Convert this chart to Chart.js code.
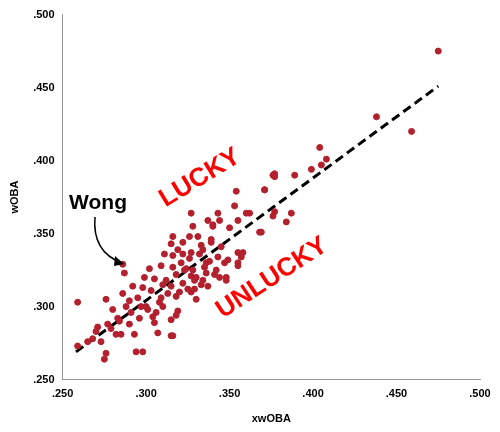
<!DOCTYPE html>
<html>
<head>
<script src="https://cdn.jsdelivr.net/npm/chart.js"></script>
<style>body{margin:0;background:#fff}#wrap{width:500px;height:432px}</style>
</head>
<body>
<div id="wrap"><canvas id="chart1"></canvas></div>
<script>
const xwoba = [.259,.259,.265,.273,.276,.275,.271,.277,.280,.276,.282,.285,.286,.288,.286,.287,.292,.290,.293,.294,
  .298,.295,.298,.299,.302,.301,.304,.305,.307,.309,.310,.310,.309,.315,.315,.316,.315,.316,.316,.315,
  .316,.319,.318,.319,.322,.323,.322,.326,.327,.327,.328,.331,.328,.327,.330,.333,.334,.336,.337,.337,
  .339,.340,.343,.343,.344,.342,.345,.348,.349,.350,.355,.355,.355,.353,.354,.358,.362,.368,.371,.377,
  .475,.438,.459,.404,.408,.405,.399,.389,.376,.377,.371,.360,.377,.376,.387,.384,.369,.340,.357,.355,
  .348,.312,.318,.321,.324,.326,.329,.332,.335,.338,.341,.320,.325,.330,.336,.313,.306,.300,.296,.283,
  .279,.270,.268,.290,.303,.308,.318,.327,.333,.344,.347,.339,.322,.311,.305,.297,.291,.284,.329,.334];
const woba = [.303,.273,.276,.276,.268,.264,.286,.288,.298,.305,.281,.281,.309,.300,.329,.323,.314,.288,.281,.269,
  .269,.306,.313,.320,.326,.298,.293,.289,.282,.306,.315,.300,.328,.291,.280,.280,.314,.327,.335,.343,
  .348,.339,.307,.297,.344,.325,.316,.348,.337,.364,.355,.348,.325,.310,.320,.315,.339,.330,.359,.314,
  .344,.355,.364,.334,.359,.325,.341,.318,.332,.354,.337,.330,.359,.369,.379,.337,.364,.351,.380,.389,
  .475,.430,.420,.409,.401,.397,.394,.390,.390,.391,.380,.364,.365,.362,.364,.358,.351,.356,.334,.328,
  .320,.318,.322,.330,.326,.333,.318,.336,.327,.331,.322,.310,.312,.305,.323,.309,.296,.300,.292,.292,
  .285,.283,.278,.304,.311,.303,.294,.321,.342,.320,.330,.346,.336,.336,.319,.300,.296,.290,.312,.318];
const trendX = [.258,.475];
const trendY = [.269,.451];
const tickLabels = ['.250','.300','.350','.400','.450','.500'];

const points = xwoba.map((x, i) => ({x: x, y: woba[i]}));

const notes = {
  id: 'notes',
  afterDraw(chart) {
    const c = chart.ctx;
    c.save();
    c.fillStyle = '#ff0000';
    c.font = 'bold 26px "Liberation Sans", Arial, sans-serif';
    c.textAlign = 'center'; c.textBaseline = 'middle';
    c.translate(200, 178); c.rotate(-0.55); c.fillText('LUCKY', 0, 0);
    c.setTransform(1,0,0,1,0,0);
    c.scale(window.devicePixelRatio || 1, window.devicePixelRatio || 1);
    c.translate(272, 278); c.rotate(-0.58); c.fillText('UNLUCKY', 0, 0);
    c.restore();
    c.save();
    c.fillStyle = '#000';
    c.font = 'bold 21px "Liberation Sans", Arial, sans-serif';
    c.textAlign = 'center'; c.textBaseline = 'middle';
    c.fillText('Wong', 98, 203);
    c.strokeStyle = '#000'; c.lineWidth = 1.5;
    c.beginPath(); c.moveTo(95, 217); c.quadraticCurveTo(92, 252, 122, 263); c.stroke();
    c.beginPath(); c.moveTo(124, 264); c.lineTo(115, 256); c.lineTo(114, 266); c.closePath(); c.fillStyle='#000'; c.fill();
    c.restore();
  }
};

new Chart(document.getElementById('chart1'), {
  type: 'scatter',
  data: {
    datasets: [{
      data: points,
      backgroundColor: '#b3202e',
      borderColor: '#b3202e',
      pointRadius: 3
    }, {
      type: 'line',
      data: trendX.map((x, i) => ({x: x, y: trendY[i]})),
      borderColor: '#000',
      borderWidth: 3,
      borderDash: [9, 5],
      pointRadius: 0
    }]
  },
  options: {
    responsive: true,
    maintainAspectRatio: false,
    animation: false,
    layout: {padding: {top: 8, right: 20, left: 4, bottom: 2}},
    plugins: {legend: {display: false}, tooltip: {enabled: false}},
    scales: {
      x: {
        min: .25, max: .5,
        grid: {display: false, drawTicks: false},
        border: {color: '#999'},
        ticks: {stepSize: .05, padding: 8, color: '#000', font: {weight: 'bold', size: 11, family: 'Liberation Sans'},
          callback: (v, i) => tickLabels[i]},
        title: {display: true, text: 'xwOBA', color: '#000', font: {weight: 'bold', size: 11, family: 'Liberation Sans'}}
      },
      y: {
        min: .25, max: .5,
        grid: {display: false, drawTicks: false},
        border: {color: '#999'},
        ticks: {stepSize: .05, padding: 8, color: '#000', font: {weight: 'bold', size: 11, family: 'Liberation Sans'},
          callback: (v, i) => tickLabels[i]},
        title: {display: true, text: 'wOBA', color: '#000', font: {weight: 'bold', size: 11, family: 'Liberation Sans'}}
      }
    }
  },
  plugins: [notes]
});
</script>
</body>
</html>
